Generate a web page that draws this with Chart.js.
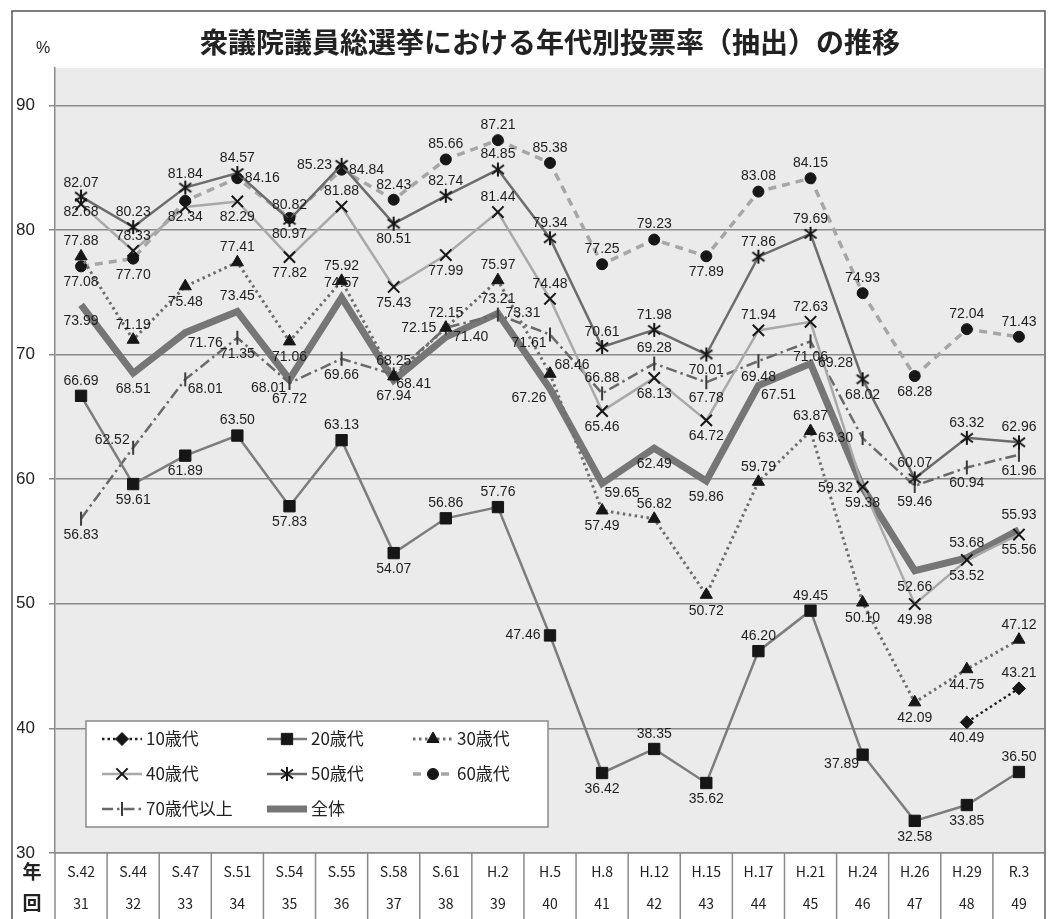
<!DOCTYPE html>
<html lang="ja">
<head>
<meta charset="UTF-8">
<title>衆議院議員総選挙における年代別投票率（抽出）の推移</title>
<script src="https://cdn.jsdelivr.net/npm/chart.js@4"></script>
<style>
  html, body { margin: 0; padding: 0; background: #fff; }
  #wrap { width: 1055px; height: 919px; position: relative; }
</style>
</head>
<body>
<div id="wrap"><canvas id="turnoutChart" width="1055" height="919"></canvas></div>
<script>
// election (era year) and session number
const categories = ['S.42', 'S.44', 'S.47', 'S.51', 'S.54', 'S.55', 'S.58', 'S.61', 'H.2', 'H.5',
  'H.8', 'H.12', 'H.15', 'H.17', 'H.21', 'H.24', 'H.26', 'H.29', 'R.3'];
const sessions = ['31', '32', '33', '34', '35', '36', '37', '38', '39', '40',
  '41', '42', '43', '44', '45', '46', '47', '48', '49'];
const yTicks = [30, 40, 50, 60, 70, 80, 90];

// turnout (%)
const teens = [null, null, null, null, null, null, null, null, null, null,
  null, null, null, null, null, null, null, 40.49, 43.21];
const twenties = [66.69, 59.61, 61.89, 63.50, 57.83, 63.13, 54.07, 56.86, 57.76, 47.46,
  36.42, 38.35, 35.62, 46.20, 49.45, 37.89, 32.58, 33.85, 36.50];
const thirties = [77.88, 71.19, 75.48, 77.41, 71.06, 75.92, 68.25, 72.15, 75.97, 68.46,
  57.49, 56.82, 50.72, 59.79, 63.87, 50.10, 42.09, 44.75, 47.12];
const forties = [82.07, 78.33, 81.84, 82.29, 77.82, 81.88, 75.43, 77.99, 81.44, 74.48,
  65.46, 68.13, 64.72, 71.94, 72.63, 59.38, 49.98, 53.52, 55.56];
const fifties = [82.68, 80.23, 83.40, 84.57, 80.82, 85.23, 80.51, 82.74, 84.85, 79.34,
  70.61, 71.98, 70.01, 77.86, 79.69, 68.02, 60.07, 63.32, 62.96];
const sixties = [77.08, 77.70, 82.34, 84.16, 80.97, 84.84, 82.43, 85.66, 87.21, 85.38,
  77.25, 79.23, 77.89, 83.08, 84.15, 74.93, 68.28, 72.04, 71.43];
const seventies = [56.83, 62.52, 68.01, 71.35, 67.72, 69.66, 68.41, 72.15, 73.21, 71.61,
  66.88, 69.28, 67.78, 69.48, 71.06, 63.30, 59.46, 60.94, 61.96];
const overall = [73.99, 68.51, 71.76, 73.45, 68.01, 74.57, 67.94, 71.40, 73.31, 67.26,
  59.65, 62.49, 59.86, 67.51, 69.28, 59.32, 52.66, 53.68, 55.93];

// where each value label sits next to its point (T/B/L/R..., '-' = no label)
const labelSpots = [
  ['-', '-', '-', '-', '-', '-', '-', '-', '-', '-', '-', '-', '-', '-', '-', '-', '-', 'B', 'T'],
  ['T', 'B', 'B', 'T', 'B', 'T', 'B', 'T', 'T', 'L', 'B', 'T', 'B', 'T', 'T', 'BL', 'B', 'B', 'T'],
  ['T', 'T', 'B', 'T', 'B', 'T', 'T', 'T', 'T', 'TR', 'B', 'T', 'B', 'T', 'T', 'B', 'B', 'B', 'T'],
  ['T+', 'T', 'TT', 'B', 'B', 'T', 'B', 'B', 'T', 'T', 'B', 'B', 'B', 'T', 'T', 'B', 'B', 'B', 'B'],
  ['B', 'T', '-', 'T', 'T', 'L', 'B', 'T', 'T', 'T', 'T', 'T', 'B', 'T', 'T', 'B', 'T', 'T', 'T'],
  ['B', 'B', 'B', 'R', 'B', 'R', 'T', 'T', 'T', 'T', 'T', 'T', 'B', 'T', 'T', 'T', 'B', 'T', 'T'],
  ['B', 'TL', 'BR', 'B', 'B', 'B', 'BR', 'L', 'T', 'BL', 'T', 'T', 'B', 'B', 'B', 'L', 'B', 'B', 'B'],
  ['B', 'B', 'BR', 'T', 'BL', 'T', 'B', 'R', 'R', 'BL', 'BR', 'B', 'B', 'BR', 'R', 'L', 'B', 'T', 'T']
];
const spotOffset = {
  T: [0, -15], 'T+': [0, -21], TT: [0, -33], B: [0, 16], L: [-27, 0], R: [25, 0],
  TL: [-21, -8], TR: [22, -9], BL: [-21, 9], BR: [20, 10]
};

// 50歳代 marker: six-armed asterisk
function asteriskMarker() {
  const c = document.createElement('canvas');
  c.width = 16; c.height = 16;
  const g = c.getContext('2d');
  g.strokeStyle = '#151515';
  g.lineWidth = 2;
  g.beginPath();
  g.moveTo(8, 1); g.lineTo(8, 15);
  g.moveTo(2, 3.5); g.lineTo(14, 12.5);
  g.moveTo(14, 3.5); g.lineTo(2, 12.5);
  g.stroke();
  return c;
}
const star = asteriskMarker();

function series(label, data, opts) {
  return Object.assign({
    label: label,
    data: data,
    fill: false,
    tension: 0,
    borderWidth: 2.5,
    pointBackgroundColor: '#161616',
    pointBorderColor: '#161616',
    pointBorderWidth: 1,
    spanGaps: false
  }, opts);
}

const datasets = [
  series('10歳代', teens, { borderColor: '#1e1e1e', borderDash: [2.5, 3], pointStyle: 'rectRot', pointRadius: 6.5 }),
  series('20歳代', twenties, { borderColor: '#7d7d7d', pointStyle: 'rect', pointRadius: 8 }),
  series('30歳代', thirties, { borderColor: '#6e6e6e', borderWidth: 3, borderDash: [2.5, 3.5], pointStyle: 'triangle', pointRadius: 7 }),
  series('40歳代', forties, { borderColor: '#a9a9a9', pointStyle: 'crossRot', pointRadius: 8, pointBorderWidth: 2 }),
  series('50歳代', fifties, { borderColor: '#6c6c6c', pointStyle: star, pointRadius: 8 }),
  series('60歳代', sixties, { borderColor: '#a6a6a6', borderWidth: 3.5, borderDash: [8, 6], pointStyle: 'circle', pointRadius: 5.5 }),
  series('70歳代以上', seventies, { borderColor: '#6a6a6a', borderDash: [11, 4, 2.5, 4], pointStyle: 'line', pointRotation: 90, pointRadius: 7, pointBorderColor: '#3a3a3a', pointBorderWidth: 2 }),
  series('全体', overall, { borderColor: '#767676', borderWidth: 7, pointRadius: 0, borderJoinStyle: 'miter' })
];

const frame = {
  id: 'frame',
  beforeDraw(chart) {
    const { ctx, chartArea: a } = chart;
    ctx.save();
    ctx.fillStyle = '#ebebec';
    ctx.fillRect(a.left, a.top, a.right - a.left, a.bottom - a.top);
    ctx.restore();
  },
  afterDraw(chart) {
    const { ctx, chartArea: a } = chart;
    const x = chart.scales.x;
    ctx.save();
    // outer frame
    ctx.strokeStyle = '#555';
    ctx.lineWidth = 1.5;
    ctx.beginPath();
    ctx.moveTo(12, 919); ctx.lineTo(12, 11); ctx.lineTo(a.right, 11); ctx.lineTo(a.right, 919);
    ctx.stroke();
    // plot right edge + table column lines
    ctx.strokeStyle = '#8a8a8a';
    ctx.beginPath();
    ctx.moveTo(a.right, a.top); ctx.lineTo(a.right, a.bottom);
    const n = categories.length;
    for (let i = 0; i <= n; i++) {
      let px;
      if (i === 0) px = a.left;
      else if (i === n) px = a.right;
      else px = (x.getPixelForValue(i - 1) + x.getPixelForValue(i)) / 2;
      ctx.moveTo(px, a.bottom); ctx.lineTo(px, 919);
    }
    ctx.stroke();
    // title, unit, row headers
    ctx.fillStyle = '#222';
    ctx.textAlign = 'center';
    ctx.textBaseline = 'middle';
    ctx.font = 'bold 28px "Noto Sans CJK JP", sans-serif';
    ctx.fillText('衆議院議員総選挙における年代別投票率（抽出）の推移', (a.left + a.right) / 2, 42);
    ctx.font = '16px "Liberation Sans", Arial, sans-serif';
    ctx.fillText('%', 43, 49);
    ctx.font = 'bold 19px "Noto Sans CJK JP", sans-serif';
    ctx.fillText('年', 32, 872);
    ctx.fillText('回', 32, 903);
    ctx.restore();
  }
};

const legendBox = {
  id: 'legendBox',
  afterDatasetsDraw(chart) {
    const ctx = chart.ctx;
    ctx.save();
    ctx.fillStyle = '#fff';
    ctx.fillRect(86, 721, 462, 106);
    ctx.strokeStyle = '#8a8a8a';
    ctx.lineWidth = 1.5;
    ctx.strokeRect(86, 721, 462, 106);
    const cols = [102, 267, 413];
    const rows = [739, 774, 809];
    chart.data.datasets.forEach((ds, i) => {
      const x0 = cols[i % 3], y = rows[Math.floor(i / 3)];
      ctx.save();
      ctx.strokeStyle = ds.borderColor;
      ctx.lineWidth = ds.borderWidth;
      ctx.setLineDash(ds.borderDash || []);
      ctx.beginPath();
      ctx.moveTo(x0, y); ctx.lineTo(x0 + 40, y);
      ctx.stroke();
      ctx.restore();
      if (ds.pointRadius > 0) {
        ctx.save();
        ctx.fillStyle = ds.pointBackgroundColor;
        ctx.strokeStyle = ds.pointBorderColor;
        ctx.lineWidth = ds.pointBorderWidth;
        ctx.setLineDash([]);
        Chart.helpers.drawPoint(ctx, {
          pointStyle: ds.pointStyle,
          rotation: ds.pointRotation || 0,
          radius: ds.pointRadius,
          borderWidth: ds.pointBorderWidth
        }, x0 + 20, y);
        ctx.restore();
      }
      ctx.fillStyle = '#222';
      ctx.font = '17px "Noto Sans CJK JP", sans-serif';
      ctx.textAlign = 'left';
      ctx.textBaseline = 'middle';
      ctx.fillText(ds.label, x0 + 44, y);
    });
    ctx.restore();
  }
};

const valueLabels = {
  id: 'valueLabels',
  afterDatasetsDraw(chart) {
    const ctx = chart.ctx;
    ctx.save();
    ctx.fillStyle = '#1e1e1e';
    ctx.font = '14px "Liberation Sans", Arial, sans-serif';
    ctx.textAlign = 'center';
    ctx.textBaseline = 'middle';
    chart.data.datasets.forEach((ds, i) => {
      const meta = chart.getDatasetMeta(i);
      meta.data.forEach((pt, j) => {
        const v = ds.data[j];
        const spot = labelSpots[i][j];
        if (v == null || spot === '-') return;
        const off = spotOffset[spot];
        ctx.fillText(v.toFixed(2), pt.x + off[0], pt.y + off[1]);
      });
    });
    ctx.restore();
  }
};

new Chart(document.getElementById('turnoutChart'), {
  type: 'line',
  data: { labels: categories, datasets: datasets },
  options: {
    responsive: false,
    animation: false,
    devicePixelRatio: 1,
    layout: { padding: { top: 68, left: 17, right: 7, bottom: 0 } },
    plugins: {
      legend: { display: false },
      title: { display: false },
      tooltip: { enabled: false }
    },
    scales: {
      x: {
        type: 'category',
        offset: true,
        grid: { display: false },
        border: { display: true, color: '#8a8a8a', width: 1.5 },
        ticks: {
          autoSkip: false,
          maxRotation: 0,
          padding: -5,
          color: '#222',
          font: { family: '"Noto Sans CJK JP", sans-serif', size: 14, lineHeight: 2.25 },
          callback: (v, i) => [categories[i], sessions[i]]
        },
        afterFit: (s) => { s.height = 66; }
      },
      y: {
        min: 30,
        max: 93,
        afterBuildTicks: (s) => { s.ticks = yTicks.map(v => ({ value: v })); },
        grid: { color: '#8a8a8a', lineWidth: 1.5, tickLength: 6 },
        border: { display: true, color: '#8a8a8a', width: 1.5 },
        ticks: {
          padding: 14,
          color: '#222',
          font: { family: '"Liberation Sans", Arial, sans-serif', size: 17 }
        },
        afterFit: (s) => { s.width = 38; }
      }
    }
  },
  plugins: [frame, legendBox, valueLabels]
});
</script>
</body>
</html>
